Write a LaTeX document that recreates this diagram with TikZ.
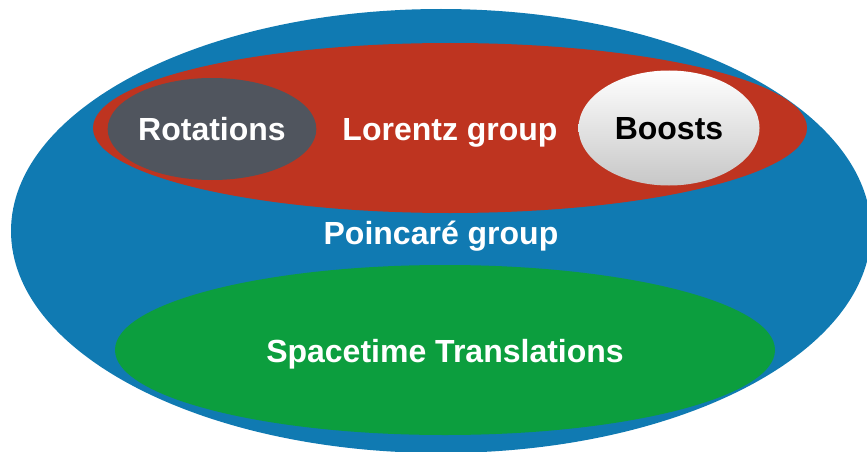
\documentclass[tikz,border=0pt]{standalone}
\usepackage{fontspec}
\setmainfont{Liberation Sans}
\usetikzlibrary{shapes.geometric}

\definecolor{poincareblue}{RGB}{16,122,178}
\definecolor{lorentzred}{RGB}{190,52,32}
\definecolor{rotgray}{RGB}{80,85,94}
\definecolor{transgreen}{RGB}{12,158,62}

\tikzset{
    group/.style={shape=ellipse, inner sep=0, text=white,
    text height=23pt, text depth=0pt,
    font=\bfseries\fontsize{32}{38}\selectfont}
}

\begin{document}
\begin{tikzpicture}[x=1pt, y=-1pt]

    \useasboundingbox (0, 0) rectangle (867, 452);
    \clip (0, 0) rectangle (867, 452);

    % Outer group
    \node[group, fill=poincareblue, minimum width=860, minimum height=444]
    (P) at (441, 231) {\raisebox{-2pt}{Poincaré group}};

    % Lorentz group and its parts
    \node[group, fill=lorentzred, minimum width=714, minimum height=170]
    (L) at (450, 128) {\raisebox{-1pt}{Lorentz group}};
    \node[group, fill=rotgray, minimum width=201, minimum height=102]
    (R) at (212, 129) {Rotations};
    \node[group, top color=white, bottom color=black!22, text=black,
    minimum width=181, minimum height=115] (B) at (669, 128) {Boosts};

    % Translations
    \node[group, fill=transgreen, minimum width=660, minimum height=170]
    (T) at (445, 350) {\raisebox{-1pt}{Spacetime Translations}};

\end{tikzpicture}
\end{document}
